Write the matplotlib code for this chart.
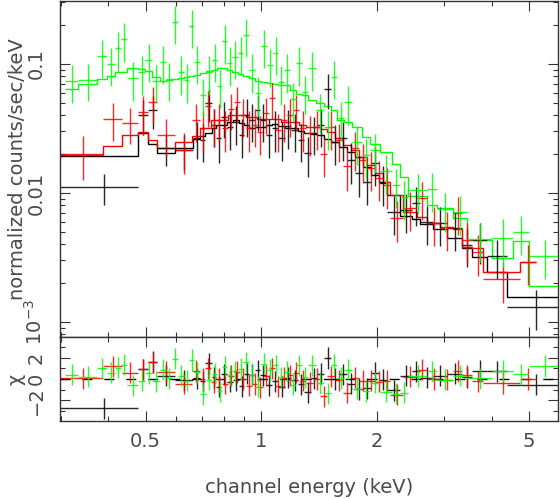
import numpy as np
import matplotlib
matplotlib.use("Agg")
import matplotlib.pyplot as plt
from matplotlib.ticker import FixedLocator, FixedFormatter, NullFormatter

# ---- spectra (keV, counts/sec/keV) ----
black_edges = [0.299, 0.478, 0.508, 0.536, 0.597, 0.665, 0.693, 0.715, 0.745, 0.763,
               0.786, 0.815, 0.845, 0.877, 0.903, 0.931, 0.965, 0.994, 1.030, 1.068,
               1.107, 1.155, 1.197, 1.249, 1.294, 1.350, 1.400, 1.460, 1.522, 1.597,
               1.675, 1.758, 1.844, 1.935, 2.030, 2.130, 2.303, 2.475, 2.597, 2.808,
               3.055, 3.342, 3.548, 3.884, 4.377, 6.02]
black_rate = [0.0111, 0.0402, 0.0440, 0.0223, 0.0215, 0.0267, 0.0258, 0.0498, 0.0337, 0.0267,
              0.0388, 0.0325, 0.0355, 0.0282, 0.0402, 0.0368, 0.0440, 0.0368, 0.0282, 0.0319,
              0.0267, 0.0331, 0.0308, 0.0258, 0.0204, 0.0292, 0.0337, 0.0640, 0.0249, 0.0267,
              0.0180, 0.0143, 0.0122, 0.0171, 0.0120, 0.00712, 0.00738, 0.00837, 0.00596, 0.00585,
              0.00535, 0.00395, 0.00432, 0.00325, 0.00131]
black_err = [0.0030, 0.012, 0.0125, 0.0062, 0.0065, 0.0085, 0.0085, 0.014, 0.011, 0.0095,
             0.012, 0.011, 0.012, 0.0095, 0.013, 0.012, 0.014, 0.012, 0.0095, 0.011,
             0.009, 0.011, 0.010, 0.0085, 0.0070, 0.0095, 0.011, 0.019, 0.0085, 0.009,
             0.0062, 0.0050, 0.0042, 0.0058, 0.0041, 0.0024, 0.0025, 0.0028, 0.0020, 0.0020,
             0.0018, 0.0013, 0.0015, 0.0011, 0.00045]
black_model = [0.0194, 0.0292, 0.0240, 0.0204, 0.0223, 0.0262, 0.0277, 0.0292, 0.0319, 0.0337,
               0.0337, 0.0355, 0.0368, 0.0349, 0.0337, 0.0319, 0.0325, 0.0325, 0.0337, 0.0343,
               0.0331, 0.0319, 0.0319, 0.0302, 0.0292, 0.0287, 0.0282, 0.0262, 0.0249, 0.0227,
               0.0208, 0.0190, 0.0159, 0.0138, 0.0122, 0.00965, 0.00663, 0.00629, 0.00575, 0.00526,
               0.00448, 0.00375, 0.00319, 0.00244, 0.00156]

red_edges = [0.299, 0.3875, 0.434, 0.478, 0.508, 0.536, 0.597, 0.661, 0.693, 0.715,
             0.741, 0.763, 0.791, 0.820, 0.850, 0.882, 0.914, 0.947, 0.976, 1.012,
             1.049, 1.088, 1.128, 1.169, 1.212, 1.256, 1.310, 1.366, 1.425, 1.486,
             1.559, 1.636, 1.716, 1.801, 1.889, 1.982, 2.080, 2.169, 2.345, 2.551,
             2.709, 2.929, 3.166, 3.342, 3.548, 3.791, 4.733, 5.211]
red_rate = [0.0201, 0.0375, 0.0349, 0.0424, 0.0507, 0.0282, 0.0215, 0.0368, 0.0319, 0.0472,
            0.0337, 0.0368, 0.0319, 0.0448, 0.0507, 0.0402, 0.0319, 0.0337, 0.0297, 0.0417,
            0.0545, 0.0308, 0.0368, 0.0402, 0.0440, 0.0319, 0.0292, 0.0325, 0.0201, 0.0325,
            0.0258, 0.0162, 0.0223, 0.0180, 0.0156, 0.0131, 0.0115, 0.00640, 0.00765, 0.00915,
            0.00585, 0.00535, 0.00700, 0.00432, 0.00349, 0.00215, 0.00292]
red_err = [0.0075, 0.012, 0.011, 0.014, 0.016, 0.009, 0.0075, 0.012, 0.011, 0.015,
           0.011, 0.012, 0.011, 0.014, 0.016, 0.013, 0.011, 0.011, 0.010, 0.013,
           0.017, 0.010, 0.012, 0.013, 0.014, 0.011, 0.010, 0.011, 0.0068, 0.011,
           0.0085, 0.0058, 0.0075, 0.006, 0.0053, 0.0045, 0.0040, 0.0022, 0.0026, 0.0030,
           0.0020, 0.0018, 0.0023, 0.0015, 0.0012, 0.00075, 0.0010]
red_model = [0.0197, 0.0231, 0.0282, 0.0297, 0.0258, 0.0223, 0.0249, 0.0277, 0.0319, 0.0319,
             0.0368, 0.0368, 0.0368, 0.0402, 0.0402, 0.0402, 0.0388, 0.0388, 0.0375, 0.0375,
             0.0375, 0.0375, 0.0355, 0.0355, 0.0355, 0.0337, 0.0325, 0.0325, 0.0313, 0.0297,
             0.0267, 0.0236, 0.0215, 0.0190, 0.0165, 0.0143, 0.0122, 0.00965, 0.00712, 0.00652,
             0.00585, 0.00545, 0.00526, 0.00381, 0.00375, 0.00244, 0.00292]

green_edges = [0.308, 0.333, 0.374, 0.397, 0.416, 0.4315, 0.447, 0.478, 0.498, 0.520,
               0.545, 0.565, 0.586, 0.608, 0.630, 0.649, 0.669, 0.693, 0.719, 0.745,
               0.768, 0.791, 0.815, 0.840, 0.871, 0.898, 0.930, 0.965, 1.0, 1.037,
               1.075, 1.107, 1.148, 1.190, 1.234, 1.279, 1.326, 1.391, 1.460, 1.522,
               1.578, 1.646, 1.726, 1.833, 1.923, 2.042, 2.195, 2.303, 2.417, 2.709,
               2.876, 3.166, 3.444, 4.002, 4.538, 4.995, 6.02]
green_rate = [0.0738, 0.0752, 0.1153, 0.1, 0.1330, 0.1562, 0.0779, 0.0867, 0.1074, 0.0738,
              0.1036, 0.0765, 0.2117, 0.0867, 0.0752, 0.1970, 0.1036, 0.0575, 0.0867, 0.1074,
              0.0675, 0.1508, 0.1018, 0.1133, 0.1217, 0.1678, 0.0898, 0.0596, 0.1378, 0.0982,
              0.1217, 0.0725, 0.0898, 0.0535, 0.1018, 0.0607, 0.0931, 0.0440, 0.0325, 0.0793,
              0.0381, 0.0507, 0.0249, 0.0197, 0.0215, 0.0148, 0.0115, 0.00931, 0.0105, 0.0107,
              0.00752, 0.00712, 0.00440, 0.00448, 0.00498, 0.00325]
green_err = [0.024, 0.024, 0.038, 0.033, 0.044, 0.052, 0.026, 0.029, 0.035, 0.024,
             0.034, 0.025, 0.070, 0.029, 0.025, 0.065, 0.034, 0.019, 0.029, 0.035,
             0.022, 0.050, 0.034, 0.037, 0.040, 0.055, 0.030, 0.020, 0.045, 0.032,
             0.040, 0.024, 0.030, 0.018, 0.034, 0.020, 0.031, 0.015, 0.011, 0.026,
             0.013, 0.017, 0.0083, 0.0066, 0.0072, 0.0050, 0.0038, 0.0031, 0.0035, 0.0036,
             0.0025, 0.0024, 0.0015, 0.0018, 0.0017, 0.0011]
green_model = [0.0640, 0.0700, 0.0765, 0.0807, 0.0867, 0.0867, 0.0931, 0.0915, 0.0882, 0.0793,
               0.0738, 0.0752, 0.0765, 0.0779, 0.0793, 0.0807, 0.0822, 0.0852, 0.0882, 0.0898,
               0.0931, 0.0931, 0.0898, 0.0867, 0.0837, 0.0807, 0.0779, 0.0738, 0.0725, 0.0712,
               0.0700, 0.0688, 0.0688, 0.0629, 0.0585, 0.0575, 0.0526, 0.0498, 0.0472, 0.0440,
               0.0368, 0.0355, 0.0325, 0.0272, 0.0240, 0.0208, 0.0168, 0.0133, 0.00948, 0.00807,
               0.00765, 0.00640, 0.00432, 0.00313, 0.00425, 0.00190]

x_major = [0.5, 1, 2, 5]
x_minor = [0.3, 0.4, 0.6, 0.7, 0.8, 0.9, 3, 4]
y_major = [1e-3, 1e-2, 0.1]
y_major_labels = [r"$10^{-3}$", "0.01", "0.1"]
y_minor = [8e-4, 9e-4] + [k * 1e-3 for k in range(2, 10)] + \
          [k * 1e-2 for k in range(2, 10)] + [0.2, 0.3]

txt = "#4a4a4a"
plt.rcParams["font.family"] = "DejaVu Sans"
plt.rcParams["font.size"] = 14

fig = plt.figure(figsize=(5.6, 4.99), dpi=100)
ax = fig.add_axes([60 / 560, 1 - 337 / 499, 498 / 560, 336 / 499])
axr = fig.add_axes([60 / 560, 1 - 421 / 499, 498 / 560, 84 / 499])


def draw_set(edges, rate, err, model, color):
    edges = np.array(edges)
    rate = np.array(rate)
    err = np.array(err)
    model = np.array(model)
    lo, hi = edges[:-1], edges[1:]
    xc = (lo + hi) / 2
    xe = [xc - lo, hi - xc]
    ax.errorbar(xc, rate, xerr=xe, yerr=err, fmt="none", ecolor=color,
                elinewidth=1, capsize=0, alpha=0.85)
    ax.stairs(model, edges, baseline=None, color=color, lw=1)
    # delchi = (data - model) / error, as xspec does
    chi = (rate - model) / err
    axr.errorbar(xc, chi, xerr=xe, yerr=1, fmt="none", ecolor=color,
                 elinewidth=1, capsize=0, alpha=0.85)


axr.axhline(0, color="k", lw=1, dashes=(7.2, 8.6))
draw_set(black_edges, black_rate, black_err, black_model, "#000000")
draw_set(red_edges, red_rate, red_err, red_model, "#ff0000")
draw_set(green_edges, green_rate, green_err, green_model, "#00ff00")

for a in (ax, axr):
    a.set_xscale("log")
    a.set_xlim(0.299, 5.945)
    a.xaxis.set_major_locator(FixedLocator(x_major))
    a.xaxis.set_minor_locator(FixedLocator(x_minor))
    a.xaxis.set_minor_formatter(NullFormatter())
    a.tick_params(which="both", direction="in", top=True, right=True,
                  color="#333333", width=0.8, labelcolor=txt)
    a.tick_params(which="major", length=7.2)
    a.tick_params(which="minor", length=3.6)
    for s in a.spines.values():
        s.set_color("#333333")
        s.set_linewidth(1)

ax.set_yscale("log")
ax.set_ylim(7.65e-4, 0.3078)
ax.yaxis.set_major_locator(FixedLocator(y_major))
ax.yaxis.set_major_formatter(FixedFormatter(y_major_labels))
ax.yaxis.set_minor_locator(FixedLocator(y_minor))
ax.yaxis.set_minor_formatter(NullFormatter())
ax.tick_params(axis="x", labelbottom=False)
ax.tick_params(axis="y", pad=10)
for lab in ax.get_yticklabels():
    lab.set_rotation(90)
    lab.set_va("center")
ax.set_ylabel("normalized counts/sec/keV", color=txt)
ax.yaxis.set_label_coords(-0.066, 0.5)

axr.set_ylim(-3.96, 3.96)
axr.yaxis.set_major_locator(FixedLocator([-2, 0, 2]))
axr.yaxis.set_major_formatter(FixedFormatter(["\u22122", "0", "2"]))
axr.yaxis.set_minor_locator(FixedLocator([-3, -1, 1, 3]))
axr.xaxis.set_major_formatter(FixedFormatter(["0.5", "1", "2", "5"]))
axr.tick_params(axis="x", pad=8)
axr.tick_params(axis="y", pad=10)
for lab in axr.get_yticklabels():
    lab.set_rotation(90)
    lab.set_va("center")
axr.set_ylabel("\u03c7", color=txt)
axr.yaxis.set_label_coords(-0.07, 0.5)

fig.text(309 / 560, 1 - 493 / 499, "channel energy (keV)", ha="center",
         va="baseline", color=txt, fontsize=14)

fig.savefig("out.png", dpi=100)
